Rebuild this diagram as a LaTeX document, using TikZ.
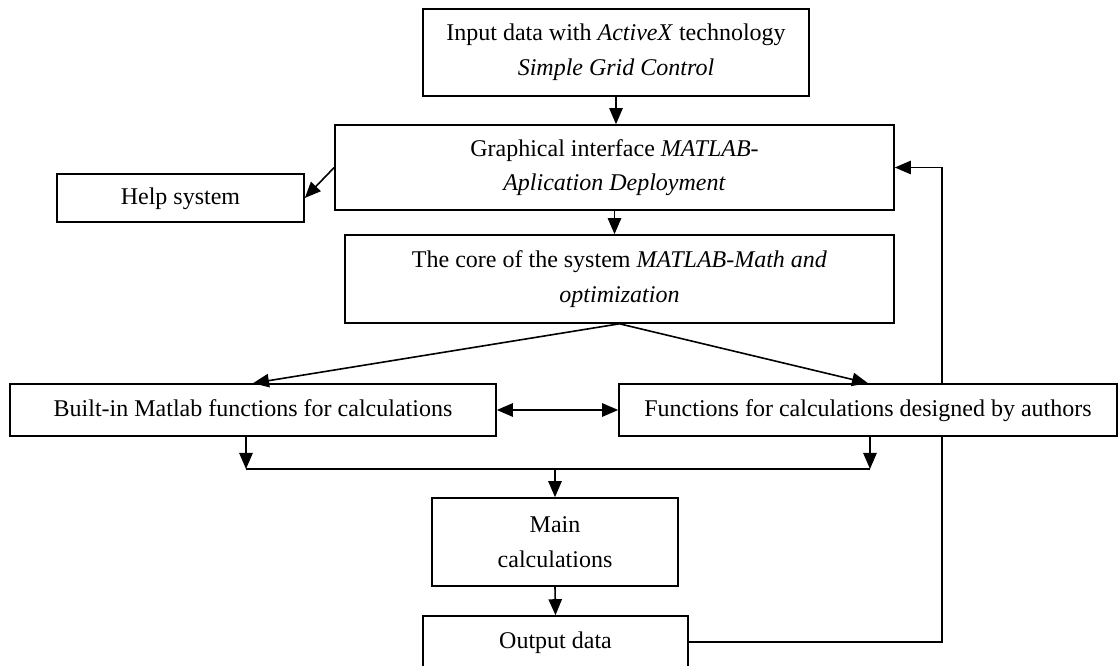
\documentclass[tikz,border=0pt]{standalone}
\usepackage{fontspec}
\setmainfont{Liberation Serif}
\usetikzlibrary{arrows.meta,backgrounds}

\tikzset{every picture/.style={line width=1.2pt}}
\tikzset{
  blockbox/.style={draw, fill=white, rectangle, inner sep=0pt, align=center,
    font=\fontsize{18}{26}\selectfont},
  flowarrow/.style={line width=1.2pt, -{Triangle[length=12pt,width=10pt]}},
  bothflow/.style={{Triangle[length=12pt,width=10pt]}-{Triangle[length=12pt,width=10pt]}}
}

\begin{document}
\begin{tikzpicture}[x=0.75pt,y=0.75pt,yscale=-1,xscale=1]
\useasboundingbox (0,0) rectangle (1118,666);

%Shape: Rectangle [input]
\node [blockbox, minimum width=386*0.75pt, minimum height=87*0.75pt] (input) at (616,52.5)
  {Input data with \textit{ActiveX} technology\\\textit{Simple Grid Control}};
%Shape: Rectangle [gui]
\node [blockbox, minimum width=559*0.75pt, minimum height=85*0.75pt] (gui) at (614.5,167.5)
  {Graphical interface \textit{MATLAB-}\\\textit{Aplication Deployment}};
%Shape: Rectangle [help]
\node [blockbox, minimum width=247*0.75pt, minimum height=48*0.75pt] (help) at (180.5,198)
  {\strut Help system};
%Shape: Rectangle [core]
\node [blockbox, minimum width=549*0.75pt, minimum height=88*0.75pt] (core) at (619.5,279)
  {The core of the system \textit{MATLAB-Math and}\\\textit{optimization}};
%Shape: Rectangle [builtin]
\node [blockbox, minimum width=486*0.75pt, minimum height=52*0.75pt] (builtin) at (253,410)
  {\strut Built-in Matlab functions for calculations};
%Shape: Rectangle [authors]
\node [blockbox, minimum width=498*0.75pt, minimum height=52*0.75pt] (authors) at (868,410)
  {\strut Functions for calculations designed by authors};
%Shape: Rectangle [main]
\node [blockbox, minimum width=246*0.75pt, minimum height=88*0.75pt] (main) at (555,542)
  {Main\\calculations};
%Shape: Rectangle [output]
\node [blockbox, minimum width=265*0.75pt, minimum height=52*0.75pt] (output) at (555.5,642)
  {\strut Output data};

% bar joining the two function blocks
\coordinate (lbar) at (246,469);
\coordinate (rbar) at (870,469);
% feedback line
\coordinate (fb) at (942,641);

%Straight Lines
\draw [flowarrow] (input.south) -- (input.south |- gui.north);
\draw [flowarrow] (gui.west) -- (help.east);
\draw [flowarrow] (gui.south) -- (gui.south |- core.north);
\draw [flowarrow] (core.south) -- (builtin.north);
\draw [flowarrow] (core.south) -- (authors.north);
\draw [bothflow] (builtin.east) -- (authors.west);

\draw [flowarrow] (builtin.south -| lbar) -- (lbar);
\draw [flowarrow] (authors.south -| rbar) -- (rbar);
\draw (lbar) -- (rbar);
\draw [flowarrow] (main.north |- lbar) -- (main.north);
\draw [flowarrow] (main.south) -- (output.north);

% feedback runs behind the authors box
\begin{scope}[on background layer]
\draw [flowarrow] (output.east) -| (fb |- gui.east) -- (gui.east);
\end{scope}

\end{tikzpicture}
\end{document}
